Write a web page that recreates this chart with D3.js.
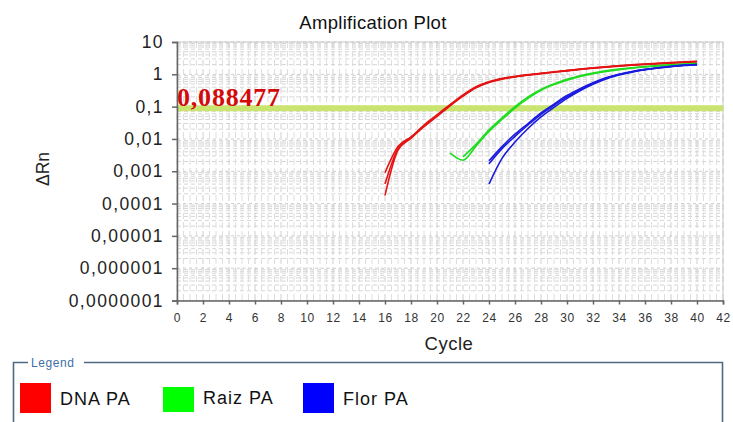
<!DOCTYPE html>
<html>
<head>
<meta charset="utf-8">
<script src="https://cdn.jsdelivr.net/npm/d3@7"></script>
<style>
  html, body { margin: 0; padding: 0; background: #fff; }
  svg { display: block; font-family: "Liberation Sans", Arial, sans-serif; }
</style>
</head>
<body>
<svg id="chart" width="733" height="422"></svg>
<script>
// ---- data ----
const seriesNames  = ["DNA PA", "Raiz PA", "Flor PA"];
const seriesColors = ["#e41414", "#1fdc1f", "#1a1ae0"];
const swatchColors = ["#ff0000", "#00ff00", "#0000ff"];

const dnaCycles = [16,17,18,19,20,21,22,23,24,25,26,27,28,29,30,31,32,33,34,35,36,37,38,39,40];
const dnaRep1 = [0.00018,0.0045,0.0105,0.024,0.05,0.105,0.21,0.38,0.56,0.71,0.83,0.94,1.05,1.16,1.28,1.41,1.54,1.67,1.79,1.91,2.01,2.11,2.21,2.31,2.4];
const dnaRep2 = [0.0009,0.0058,0.0115,0.027,0.056,0.115,0.23,0.41,0.59,0.74,0.86,0.97,1.08,1.19,1.31,1.45,1.59,1.72,1.85,1.97,2.09,2.21,2.32,2.43,2.55];
const dnaRep3 = [0.0004,0.005,0.011,0.025,0.053,0.11,0.22,0.4,0.58,0.73,0.85,0.96,1.06,1.18,1.3,1.43,1.56,1.69,1.82,1.94,2.05,2.16,2.27,2.37,2.48];

const raizCycles1 = [21,22,23,24,25,26,27,28,29,30,31,32,33,34,35,36,37,38,39,40];
const raizRep1 = [0.0037,0.0022,0.006,0.017,0.04,0.09,0.18,0.32,0.48,0.66,0.86,1.05,1.22,1.4,1.55,1.68,1.8,1.92,2.02,2.1];
const raizCycles2 = [22,23,24,25,26,27,28,29,30,31,32,33,34,35,36,37,38,39,40];
const raizRep2 = [0.0028,0.0068,0.019,0.045,0.1,0.2,0.34,0.5,0.7,0.9,1.1,1.28,1.45,1.6,1.74,1.86,1.97,2.07,2.15];

const florCycles = [24,25,26,27,28,29,30,31,32,33,34,35,36,37,38,39,40];
const florRep1 = [0.0017,0.005,0.012,0.027,0.058,0.11,0.2,0.34,0.52,0.75,0.98,1.2,1.4,1.58,1.75,1.9,2.0];
const florRep2 = [0.0004,0.0025,0.008,0.021,0.048,0.095,0.18,0.31,0.49,0.72,0.95,1.17,1.38,1.56,1.72,1.87,1.98];
const florRep3 = [0.0021,0.0058,0.014,0.03,0.064,0.12,0.22,0.36,0.55,0.78,1.0,1.22,1.42,1.6,1.77,1.92,2.02];

const threshold = 0.088477;
const thresholdLabel = "0,088477";

const xTicks = [0,2,4,6,8,10,12,14,16,18,20,22,24,26,28,30,32,34,36,38,40,42];
const yTicks = [10,1,0.1,0.01,0.001,0.0001,0.00001,0.000001,0.0000001];
const yTickLabels = ["10","1","0,1","0,01","0,001","0,0001","0,00001","0,000001","0,0000001"];

// replicate wells, grouped by sample
const wells = [
  {s: 0, c: dnaCycles, v: dnaRep1},
  {s: 0, c: dnaCycles, v: dnaRep2},
  {s: 0, c: dnaCycles, v: dnaRep3},
  {s: 1, c: raizCycles1, v: raizRep1},
  {s: 1, c: raizCycles2, v: raizRep2},
  {s: 2, c: florCycles, v: florRep1},
  {s: 2, c: florCycles, v: florRep2},
  {s: 2, c: florCycles, v: florRep3}
];

// ---- layout ----
const svg = d3.select("#chart");
const plotL = 177, plotR = 723, plotT = 42, plotB = 300.5;

const x = d3.scaleLinear().domain([0, 42]).range([plotL, plotR]);
const y = d3.scaleLog().domain([1e-7, 10]).range([plotB, plotT]);

// title
svg.append("text")
  .attr("x", 373).attr("y", 29)
  .attr("text-anchor", "middle")
  .attr("font-size", 18.5)
  .attr("letter-spacing", 0.3)
  .attr("fill", "#111")
  .text("Amplification Plot");

// grid: minor log lines and dashed cycle lines
const grid = svg.append("g");
const minor = [];
for (let e = -7; e < 1; e++) {
  for (let m = 2; m <= 9; m++) minor.push(m * Math.pow(10, e));
}
grid.selectAll("line.h").data(minor).join("line")
  .attr("x1", plotL).attr("x2", plotR)
  .attr("y1", d => y(d)).attr("y2", d => y(d))
  .attr("stroke", "#d6d6d6").attr("stroke-width", 1)
  .attr("stroke-dasharray", "4,3");
grid.selectAll("line.d").data(yTicks).join("line")
  .attr("x1", plotL).attr("x2", plotR)
  .attr("y1", d => y(d)).attr("y2", d => y(d))
  .attr("stroke", "#cfcfcf").attr("stroke-width", 1)
  .attr("stroke-dasharray", "3,3");
const vLines = d3.range(0, 42.01, 0.5);
grid.selectAll("line.v").data(vLines).join("line")
  .attr("x1", d => x(d)).attr("x2", d => x(d))
  .attr("y1", plotT).attr("y2", plotB)
  .attr("stroke", d => Number.isInteger(d / 2) ? "#cfcfcf" : "#dedede")
  .attr("stroke-width", 1)
  .attr("stroke-dasharray", "6,3");

// plot frame
svg.append("rect")
  .attr("x", plotL).attr("y", plotT)
  .attr("width", plotR - plotL).attr("height", plotB - plotT)
  .attr("fill", "none").attr("stroke", "#c8c8c8");

// threshold
svg.append("line")
  .attr("x1", plotL).attr("x2", plotR)
  .attr("y1", y(threshold)).attr("y2", y(threshold))
  .attr("stroke", "#c9e46f").attr("stroke-width", 6);

// amplification curves
const line = d3.line()
  .x(d => x(d[0]))
  .y(d => y(d[1]))
  .curve(d3.curveMonotoneX);
svg.append("g").selectAll("path").data(wells).join("path")
  .attr("d", w => line(w.c.map((c, i) => [c, w.v[i]])))
  .attr("fill", "none")
  .attr("stroke", w => seriesColors[w.s])
  .attr("stroke-width", 1.6)
  .attr("stroke-linejoin", "round");

// threshold value
svg.append("text")
  .attr("x", plotL).attr("y", 105.5)
  .attr("font-family", "'Liberation Serif', 'Times New Roman', serif")
  .attr("font-weight", "bold")
  .attr("font-size", 26)
  .attr("letter-spacing", 0.8)
  .attr("fill", "#d40a0a")
  .text(thresholdLabel);

// axes
const yAxis = d3.axisLeft(y)
  .tickValues(yTicks)
  .tickFormat((d, i) => yTickLabels[i])
  .tickSize(5).tickPadding(8);
const gy = svg.append("g").attr("transform", `translate(${plotL},0)`).call(yAxis);
gy.select(".domain").attr("stroke", "#666").attr("stroke-width", 1.5);
gy.selectAll(".tick line").attr("stroke", "#666").attr("stroke-width", 1.5);
gy.selectAll(".tick text")
  .attr("font-size", 17.5).attr("letter-spacing", 1.4)
  .attr("fill", "#222").attr("font-family", "'Liberation Sans', Arial, sans-serif");

const xAxis = d3.axisBottom(x)
  .tickValues(xTicks)
  .tickFormat(d3.format("d"))
  .tickSize(4).tickPadding(9);
const gx = svg.append("g").attr("transform", `translate(0,${plotB})`).call(xAxis);
gx.select(".domain").attr("stroke", "#666").attr("stroke-width", 1.5);
gx.selectAll(".tick line").attr("stroke", "#666").attr("stroke-width", 1.5);
gx.selectAll(".tick text")
  .attr("font-size", 12).attr("letter-spacing", 0.6)
  .attr("fill", "#333").attr("font-family", "'Liberation Sans', Arial, sans-serif");

// axis titles
svg.append("text")
  .attr("x", 449).attr("y", 350)
  .attr("text-anchor", "middle")
  .attr("font-size", 18.5).attr("letter-spacing", 0.5)
  .attr("fill", "#222")
  .text("Cycle");
svg.append("text")
  .attr("transform", "translate(49,169) rotate(-90)")
  .attr("text-anchor", "middle")
  .attr("font-size", 17.5)
  .attr("fill", "#222")
  .text("ΔRn");

// legend frame
const lg = svg.append("g");
lg.append("path")
  .attr("d", "M28,362.5 H13.5 V430 M84,362.5 H722.5 V430")
  .attr("fill", "none").attr("stroke", "#506a84").attr("stroke-width", 1.6);
lg.append("text")
  .attr("x", 31).attr("y", 366.5)
  .attr("font-size", 12).attr("letter-spacing", 0.6)
  .attr("fill", "#3e6fa6")
  .text("Legend");

const swatchX = [20, 163, 303];
const swatchY = [383, 387, 383];
const swatchH = [30, 25, 30];
const labelX = [60, 203, 343];
const items = lg.selectAll("g.item").data(seriesNames).join("g");
items.append("rect")
  .attr("x", (d, i) => swatchX[i]).attr("y", (d, i) => swatchY[i])
  .attr("width", 31).attr("height", (d, i) => swatchH[i])
  .attr("fill", (d, i) => swatchColors[i]);
items.append("text")
  .attr("x", (d, i) => labelX[i]).attr("y", (d, i) => i === 1 ? 403.5 : 405)
  .attr("font-size", 18).attr("letter-spacing", 1)
  .attr("fill", "#111")
  .text(d => d);
</script>
</body>
</html>
